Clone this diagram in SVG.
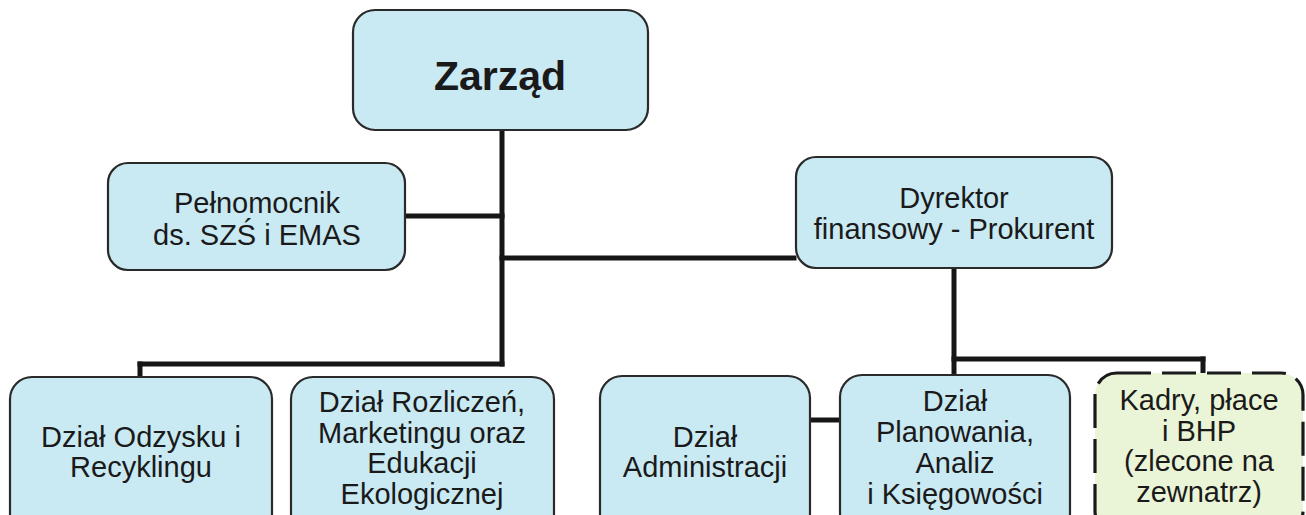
<svg xmlns="http://www.w3.org/2000/svg" width="1306" height="515" viewBox="0 0 1306 515">
<style>
.box{fill:#c9e9f3;stroke:#2a2a2a;stroke-width:2.2}
.ext{fill:#eaf4d6;stroke:#1a1a1a;stroke-width:3.2;stroke-dasharray:34 11}
.t{font-family:"Liberation Sans",Arial,sans-serif;font-size:29px;fill:#1a1a1a;text-anchor:middle}
.tb{font-family:"Liberation Sans",Arial,sans-serif;font-size:41px;font-weight:bold;fill:#1a1a1a;text-anchor:middle}
.c{stroke:#161616;stroke-width:5;fill:none;stroke-linecap:square}
</style>
<rect width="1306" height="515" fill="#ffffff"/>
<g id="connectors">
<line class="c" x1="502" y1="132" x2="502" y2="364"/>
<line class="c" x1="407" y1="216" x2="502" y2="216"/>
<line class="c" x1="502" y1="258" x2="794" y2="258"/>
<line class="c" x1="140" y1="364" x2="502" y2="364"/>
<line class="c" x1="140" y1="364" x2="140" y2="375"/>
<line class="c" x1="954" y1="270" x2="954" y2="374"/>
<line class="c" x1="954" y1="359" x2="1203" y2="359"/>
<line class="c" x1="1203" y1="359" x2="1203" y2="372"/>
<line class="c" x1="812" y1="420" x2="838" y2="420"/>
</g>
<g id="zarzad">
<rect class="box" x="353" y="10" width="295" height="120" rx="22"/>
<text class="tb" x="500" y="90">Zarząd</text>
</g>
<g id="pelnomocnik">
<rect class="box" x="108" y="163" width="297" height="107" rx="20"/>
<text class="t" x="257" y="213">Pełnomocnik</text>
<text class="t" x="257" y="245">ds. SZŚ i EMAS</text>
</g>
<g id="dyrektor">
<rect class="box" x="796" y="157" width="316" height="111" rx="20"/>
<text class="t" x="954" y="208">Dyrektor</text>
<text class="t" x="954" y="239">finansowy - Prokurent</text>
</g>
<g id="odzysk">
<rect class="box" x="10" y="377" width="262" height="160" rx="22"/>
<text class="t" x="141" y="447">Dział Odzysku i</text>
<text class="t" x="141" y="477">Recyklingu</text>
</g>
<g id="rozliczenia">
<rect class="box" x="291" y="377" width="263" height="160" rx="22"/>
<text class="t" x="422" y="412">Dział Rozliczeń,</text>
<text class="t" x="422" y="443">Marketingu oraz</text>
<text class="t" x="422" y="473">Edukacji</text>
<text class="t" x="422" y="504">Ekologicznej</text>
</g>
<g id="administracja">
<rect class="box" x="600" y="376" width="210" height="160" rx="22"/>
<text class="t" x="705" y="447">Dział</text>
<text class="t" x="705" y="477">Administracji</text>
</g>
<g id="planowanie">
<rect class="box" x="840" y="375" width="230" height="160" rx="22"/>
<text class="t" x="955" y="411">Dział</text>
<text class="t" x="955" y="442">Planowania,</text>
<text class="t" x="955" y="473">Analiz</text>
<text class="t" x="955" y="504">i Księgowości</text>
</g>
<g id="kadry">
<rect class="ext" x="1095" y="373" width="208" height="160" rx="22"/>
<text class="t" x="1199" y="410">Kadry, płace</text>
<text class="t" x="1199" y="441">i BHP</text>
<text class="t" x="1199" y="471">(zlecone na</text>
<text class="t" x="1199" y="502">zewnatrz)</text>
</g>
</svg>
